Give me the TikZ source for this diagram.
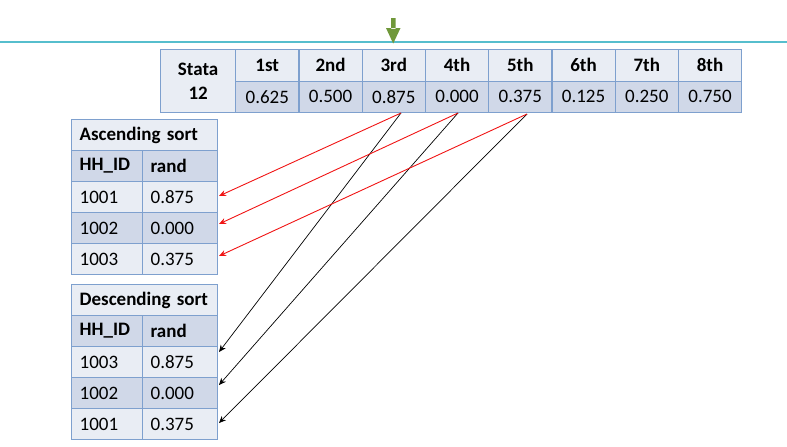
\documentclass[tikz,border=0pt]{standalone}
\usepackage{fontspec}
\setmainfont{Carlito}
\usetikzlibrary{arrows.meta}
\definecolor{cellA}{RGB}{233,237,244}
\definecolor{cellB}{RGB}{208,216,232}
\definecolor{bord}{RGB}{126,160,206}
\definecolor{teal}{RGB}{86,190,205}
\definecolor{olive}{RGB}{112,152,58}
\definecolor{arrred}{RGB}{240,20,20}
\begin{document}
\begin{tikzpicture}[x=1pt,y=-1pt,
  cell/.style={draw=bord,line width=1.3pt,rectangle,inner sep=0pt,anchor=north west,
     font=\fontsize{19}{20}\selectfont},
  hdr/.style={cell,fill=cellA,font=\fontsize{19}{21}\selectfont\bfseries,minimum width=63.25pt,minimum height=31.5pt},
  val/.style={cell,fill=cellB,minimum width=63.25pt,minimum height=31.5pt},
  lcell/.style={cell,align=left,inner xsep=8pt,minimum height=31pt},
  lw1/.style={lcell,text width=55pt,minimum width=71pt},
  lw2/.style={lcell,text width=59pt,minimum width=75pt},
  lwt/.style={lcell,text width=130pt,minimum width=146pt,font=\fontsize{19}{20}\selectfont\bfseries},
  bold/.style={font=\fontsize{19}{20}\selectfont\bfseries},
  redarr/.style={draw=arrred,line width=0.9pt,-{Stealth[length=7pt,width=6pt]}},
  blkarr/.style={draw=black,line width=0.7pt,-{Stealth[length=7pt,width=6pt]}}
]
\useasboundingbox (0,0) rectangle (787,447);
% top line and marker
\draw[teal,line width=2pt] (0,41.5) -- (787,41.5);
\fill[olive] (391,18) rectangle (395.5,29) (386,28) -- (400.5,28) -- (393.2,43.5) -- cycle;
% top table
\node[cell,fill=cellA,minimum width=75pt,minimum height=63pt,align=center,
  font=\fontsize{19}{24}\selectfont\bfseries] (stata) at (160,49) {Stata\\12};
\foreach \i/\h/\v in {0/1st/0.625,1/2nd/0.500,2/3rd/0.875,3/4th/0.000,4/5th/0.375,5/6th/0.125,6/7th/0.250,7/8th/0.750}{
  \node[hdr] (h\i) at ({235+63.25*\i},49) {\h};
  \node[val] (v\i) at ({235+63.25*\i},80.5) {\v};
}
% ascending table
\node[lwt,fill=cellA] (at) at (71,119) {Ascending sort};
\node[lw1,fill=cellB,bold] (ah1) at (71,150) {HH\_ID};
\node[lw2,fill=cellB,bold] (ah2) at (142,150) {rand};
\node[lw1,fill=cellA] (a1a) at (71,181) {1001};
\node[lw2,fill=cellA] (a1b) at (142,181) {0.875};
\node[lw1,fill=cellB] (a2a) at (71,212) {1002};
\node[lw2,fill=cellB] (a2b) at (142,212) {0.000};
\node[lw1,fill=cellA] (a3a) at (71,243) {1003};
\node[lw2,fill=cellA] (a3b) at (142,243) {0.375};
% descending table
\node[lwt,fill=cellA] (dt) at (71,284) {Descending sort};
\node[lw1,fill=cellB,bold] (dh1) at (71,315) {HH\_ID};
\node[lw2,fill=cellB,bold] (dh2) at (142,315) {rand};
\node[lw1,fill=cellA] (d1a) at (71,346) {1003};
\node[lw2,fill=cellA] (d1b) at (142,346) {0.875};
\node[lw1,fill=cellB] (d2a) at (71,377) {1002};
\node[lw2,fill=cellB] (d2b) at (142,377) {0.000};
\node[lw1,fill=cellA] (d3a) at (71,408) {1001};
\node[lw2,fill=cellA] (d3b) at (142,408) {0.375};
% arrow anchors
\coordinate (s3) at (401,113);
\coordinate (s4) at (458,113);
\coordinate (s5) at (527,114);
\coordinate (ea1) at (219,196);
\coordinate (ea2) at (219,224);
\coordinate (ea3) at (219,256);
\coordinate (ed1) at (219,352);
\coordinate (ed2) at (219,385);
\coordinate (ed3) at (219,423);
\draw[blkarr] (s3) -- (ed1);
\draw[blkarr] (s4) -- (ed2);
\draw[blkarr] (s5) -- (ed3);
\draw[redarr] (s3) -- (ea1);
\draw[redarr] (s4) -- (ea2);
\draw[redarr] (s5) -- (ea3);
\end{tikzpicture}
\end{document}
